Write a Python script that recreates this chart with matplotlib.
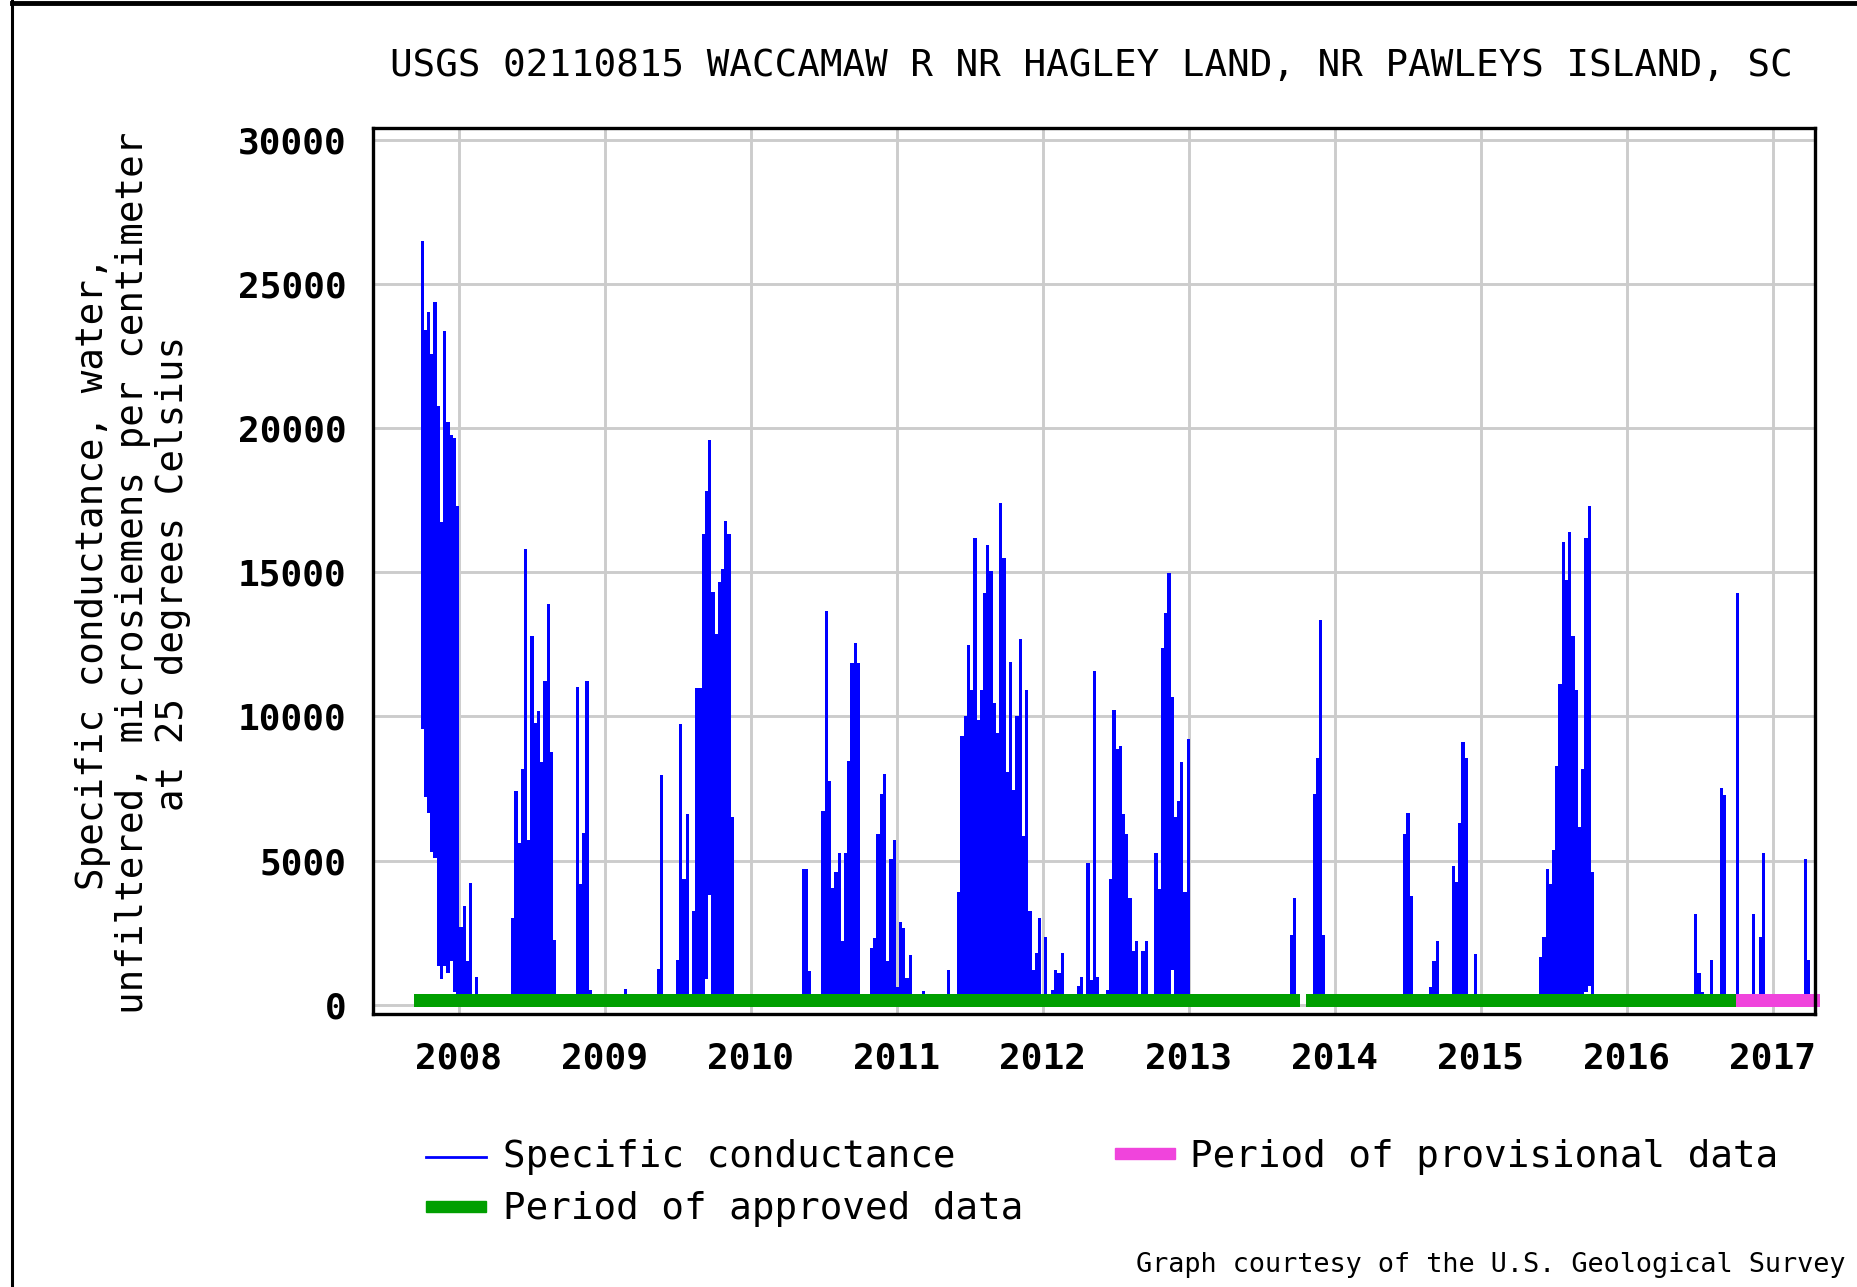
import numpy as np
import matplotlib
matplotlib.use('Agg')
import matplotlib.pyplot as plt
from matplotlib.lines import Line2D
from matplotlib.patches import Rectangle

title = 'USGS 02110815 WACCAMAW R NR HAGLEY LAND, NR PAWLEYS ISLAND, SC'
ylabel = ('Specific conductance, water,\n'
          'unfiltered, microsiemens per centimeter\n'
          'at 25 degrees Celsius')
years = [2008, 2009, 2010, 2011, 2012, 2013, 2014, 2015, 2016, 2017]
yticks = [0, 5000, 10000, 15000, 20000, 25000, 30000]

# one column of the plot = about a week; value range (max, min) in that week
t = [2007.740, 2007.760, 2007.781, 2007.801, 2007.822, 2007.849, 2007.870, 2007.890,
     2007.911, 2007.938, 2007.959, 2007.979, 2008.000, 2008.027, 2008.048, 2008.068,
     2008.110,
     2008.356, 2008.377, 2008.404, 2008.425, 2008.445, 2008.466, 2008.486, 2008.514,
     2008.534, 2008.555, 2008.575, 2008.603, 2008.623, 2008.644,
     2008.801, 2008.822, 2008.842, 2008.863, 2008.890,
     2009.130, 2009.356, 2009.377, 2009.486, 2009.507, 2009.527, 2009.555, 2009.596,
     2009.616, 2009.637, 2009.664, 2009.685, 2009.705, 2009.726, 2009.753, 2009.774,
     2009.795, 2009.815, 2009.836, 2009.863,
     2010.349, 2010.370, 2010.390, 2010.479, 2010.507, 2010.527, 2010.548, 2010.568,
     2010.596, 2010.616, 2010.637, 2010.658, 2010.678, 2010.705, 2010.726,
     2010.795, 2010.815, 2010.836, 2010.856, 2010.884, 2010.904, 2010.925, 2010.945,
     2010.973, 2010.993, 2011.014, 2011.034, 2011.055, 2011.082, 2011.171,
     2011.342, 2011.411, 2011.432, 2011.459, 2011.479, 2011.500, 2011.521, 2011.548,
     2011.568, 2011.589, 2011.610, 2011.630, 2011.658, 2011.678, 2011.699, 2011.719,
     2011.747, 2011.767, 2011.788, 2011.808, 2011.836, 2011.856, 2011.877, 2011.897,
     2011.925, 2011.945, 2011.966, 2012.007, 2012.055, 2012.075, 2012.096, 2012.123,
     2012.233, 2012.253, 2012.295, 2012.322, 2012.342, 2012.363,
     2012.432, 2012.452, 2012.473, 2012.500, 2012.521, 2012.541, 2012.562, 2012.582,
     2012.610, 2012.630, 2012.671, 2012.699,
     2012.760, 2012.788, 2012.808, 2012.829, 2012.849, 2012.877, 2012.897, 2012.918,
     2012.938, 2012.959, 2012.986,
     2013.692, 2013.712, 2013.849, 2013.870, 2013.890, 2013.911,
     2014.466, 2014.486, 2014.514, 2014.534, 2014.644, 2014.664, 2014.692,
     2014.801, 2014.822, 2014.842, 2014.863, 2014.890, 2014.952,
     2015.397, 2015.418, 2015.445, 2015.466, 2015.486, 2015.507, 2015.527, 2015.555,
     2015.575, 2015.596, 2015.616, 2015.644, 2015.664, 2015.685, 2015.705, 2015.733,
     2015.753,
     2016.459, 2016.479, 2016.507, 2016.568, 2016.637, 2016.658, 2016.747, 2016.856,
     2016.904, 2016.925, 2017.212, 2017.233]

hi = [26490, 23390, 24020, 22580, 24370, 20760, 16730, 23370,
      20200, 19750, 19640, 17280, 2700, 3440, 1530, 4240,
      970,
      3000, 7420, 5600, 8170, 15820, 5720, 12790, 9760,
      10200, 8430, 11220, 13910, 8750, 2250,
      11020, 4200, 5970, 11220, 500,
      560, 1250, 7980, 1570, 9740, 4380, 6620, 3260,
      11000, 11000, 16330, 17810, 19600, 14330, 12860, 14660,
      15100, 16790, 16330, 6500,
      4710, 4710, 1190, 6730, 13660, 7750, 4040, 4590,
      5260, 2210, 5260, 8450, 11860, 12530, 11860,
      370, 1960, 2310, 5930, 7310, 8010, 1510, 5060,
      5730, 630, 2870, 2660, 940, 1740, 490,
      1220, 3910, 9310, 10000, 12470, 10910, 16190, 9890,
      10910, 14290, 15950, 15050, 10450, 9440, 17410, 15490,
      8090, 11900, 7440, 10000, 12680, 5840, 10910, 3260,
      1220, 1800, 3000, 2340, 530, 1220, 1090, 1800,
      650, 970, 4910, 870, 11570, 970,
      510, 4350, 10210, 8880, 8990, 6620, 5920, 3690,
      1880, 2230, 1880, 2230,
      5260, 4030, 12370, 13600, 14970, 10670, 6510, 7080,
      8430, 3900, 9200,
      2420, 3690, 7310, 8570, 13350, 2420,
      5940, 6640, 3790, 390, 630, 1510, 2210,
      4810, 4250, 6290, 9130, 8570, 1760,
      1670, 2340, 4710, 4180, 5360, 8290, 11110, 16060,
      14730, 16400, 12800, 10910, 6160, 8190, 16190, 17310,
      4600,
      3160, 1110, 450, 1560, 7530, 7290, 14270, 3160,
      2360, 5280, 5070, 1560]

lo = [0] * len(t)
lows_2007 = [9550, 7200, 6650, 5300, 5090, 1360, 880, 1360, 1100, 1530, 450, 360]
lo[:12] = lows_2007
lo[t.index(2009.685)] = 900
lo[t.index(2009.705)] = 3800
lo[t.index(2012.877)] = 1220
lo[t.index(2015.705)] = 440
lo[t.index(2015.733)] = 670

approved = [(2007.692, 2013.760), (2013.801, 2016.747)]
provisional = [(2016.747, 2017.322)]

blue = '#0000ff'
green = '#009f00'
pink = '#f044dc'
grid_c = '#cccccc'
mono = 'DejaVu Sans Mono'

W, H = 1857, 1287
fig = plt.figure(figsize=(W / 100, H / 100), dpi=100)
ax = fig.add_axes([373 / W, 1 - 1013.5 / H, 1442 / W, 885.5 / H])

t_arr = np.array(t)
gap = np.diff(t_arr, append=t_arr[-1] + 1)
widths = np.where(gap < 0.03, gap, 0.0206)
ax.bar(t_arr, np.array(hi) - np.array(lo), bottom=lo, width=widths, align='edge',
       color=blue, linewidth=0, antialiased=False, zorder=2)

for x0, x1 in approved:
    ax.fill_between([x0, x1], -60, 380, color=green, linewidth=0, zorder=3)
for x0, x1 in provisional:
    p = ax.fill_between([x0, x1], -60, 380, color=pink, linewidth=0, zorder=3)
    p.set_clip_on(False)

ax.set_xlim(2007.411, 2017.288)
ax.set_ylim(-300, 30400)
ax.set_xticks(years)
ax.set_xticklabels([str(y) for y in years], fontsize=26, fontweight='bold', family=mono)
ax.set_yticks(yticks)
ax.set_yticklabels([str(v) for v in yticks], fontsize=26, fontweight='bold', family=mono)
ax.tick_params(axis='both', length=0)
ax.tick_params(axis='y', pad=19)
ax.tick_params(axis='x', pad=20)
ax.grid(True, color=grid_c, linewidth=2.1)
ax.set_axisbelow(True)
for s in ax.spines.values():
    s.set_linewidth(2.4)
    s.set_color('black')
    s.set_zorder(5)

fig.text(1091 / W, 1 - 66 / H, title, ha='center', va='center', fontsize=27, family=mono)
fig.text(133 / W, 1 - 573 / H, ylabel, rotation=90, ha='center', va='center',
         multialignment='center', linespacing=1.14, fontsize=27, family=mono)

# legend
fig.add_artist(Line2D([426 / W, 486 / W], [1 - 1157 / H, 1 - 1157 / H], color=blue, linewidth=2))
fig.text(503 / W, 1 - 1157 / H, 'Specific conductance', ha='left', va='center', fontsize=27, family=mono)
fig.add_artist(Rectangle((1115 / W, 1 - 1159 / H), 60 / W, 11 / H, color=pink, transform=fig.transFigure))
fig.text(1190 / W, 1 - 1157 / H, 'Period of provisional data', ha='left', va='center', fontsize=27, family=mono)
fig.add_artist(Rectangle((426 / W, 1 - 1212 / H), 60 / W, 11 / H, color=green, transform=fig.transFigure))
fig.text(503 / W, 1 - 1209 / H, 'Period of approved data', ha='left', va='center', fontsize=27, family=mono)
fig.text(1845 / W, 1 - 1265 / H, 'Graph courtesy of the U.S. Geological Survey', ha='right', va='center',
         fontsize=19.4, family=mono)

# outer frame lines of the original graphic
fig.add_artist(Line2D([12 / W, 1], [1 - 2.5 / H, 1 - 2.5 / H], color='black', linewidth=3.5))
fig.add_artist(Line2D([12 / W, 12 / W], [0, 1], color='black', linewidth=2.2))

fig.savefig('out.png', dpi=100)
